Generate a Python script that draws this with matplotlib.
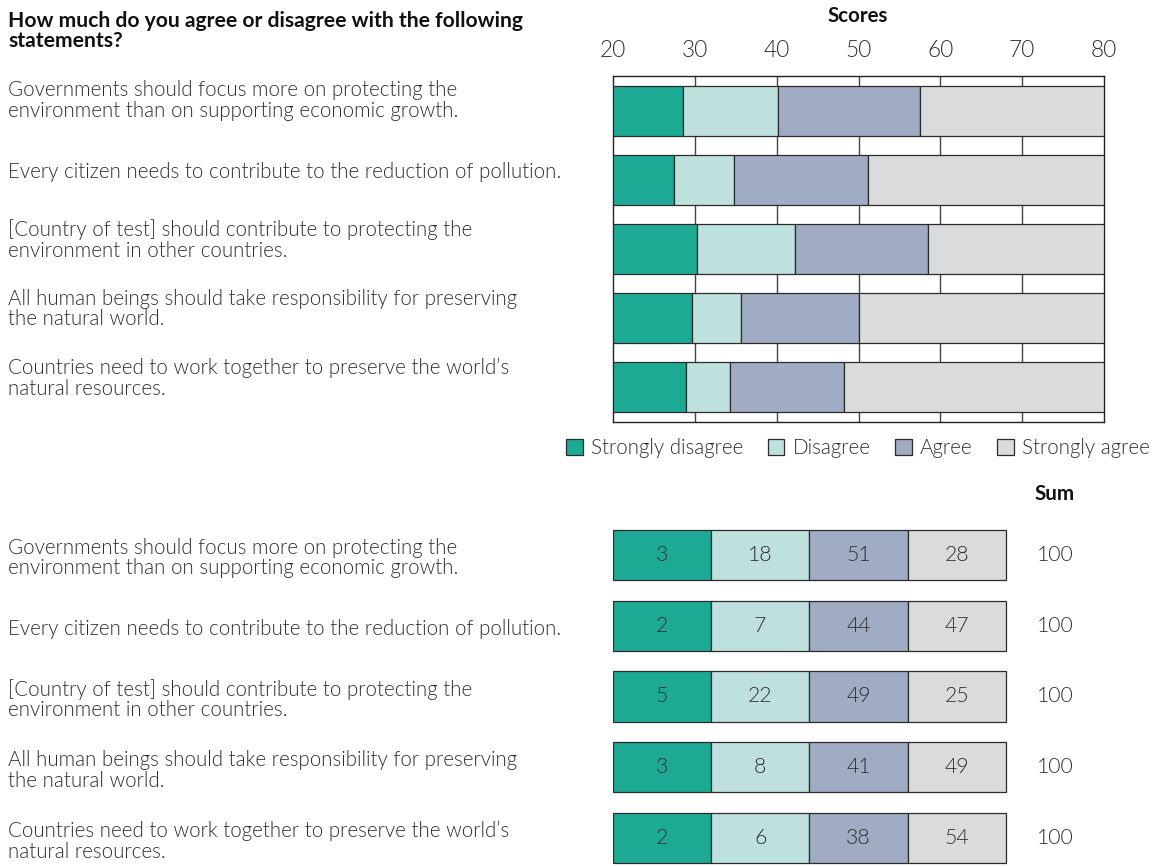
import matplotlib
matplotlib.use("Agg")
import matplotlib.pyplot as plt
from matplotlib.patches import Patch
import numpy as np

plt.rcParams['font.family'] = ['Lato', 'DejaVu Sans']

title = "How much do you agree or disagree with the following\nstatements?"
statements = [
    "Governments should focus more on protecting the\nenvironment than on supporting economic growth.",
    "Every citizen needs to contribute to the reduction of pollution.",
    "[Country of test] should contribute to protecting the\nenvironment in other countries.",
    "All human beings should take responsibility for preserving\nthe natural world.",
    "Countries need to work together to preserve the world\u2019s\nnatural resources.",
]
categories = ["Strongly disagree", "Disagree", "Agree", "Strongly agree"]

# Top chart: score thresholds (cumulative boundaries on the score scale)
score_start = [20, 20, 20, 20, 20]
score_sd_end = [28.6, 27.5, 30.3, 29.7, 28.9]
score_d_end = [40.2, 34.8, 42.3, 35.7, 34.3]
score_a_end = [57.5, 51.1, 58.5, 50.1, 48.2]
score_sa_end = [80, 80, 80, 80, 80]
score_ticks = [20, 30, 40, 50, 60, 70, 80]

# Bottom table: percentages
pct_strongly_disagree = [3, 2, 5, 3, 2]
pct_disagree = [18, 7, 22, 8, 6]
pct_agree = [51, 44, 49, 41, 38]
pct_strongly_agree = [28, 47, 25, 49, 54]
pct_sum = [100, 100, 100, 100, 100]

colors = ["#1daa94", "#bfe1de", "#9facc3", "#dadbdd"]
edge = "#2b2b2b"
txt = "#2e2e2e"
FS = 14.8
WT = 300
LS = 1.05

W, H = 1157, 866
fig = plt.figure(figsize=(W / 100, H / 100), dpi=100)

def fx(px):
    return px / W

def fy(py):
    return 1 - py / H

# ---------- top chart ----------
L, R = 613, 1104
T, B = 76, 422
ax = fig.add_axes([fx(L), fy(B), fx(R - L), (B - T) / H])
n = len(statements)
y = np.arange(n)
bounds = [score_start, score_sd_end, score_d_end, score_a_end, score_sa_end]
for k in range(4):
    lefts = np.array(bounds[k])
    widths = np.array(bounds[k + 1]) - lefts
    ax.barh(y, widths, left=lefts, height=0.72, color=colors[k],
            edgecolor=edge, linewidth=0.9, zorder=3)
ax.set_xlim(20, 80)
ax.set_ylim(n - 0.5, -0.5)
ax.set_yticks([])
ax.set_xticks(score_ticks)
ax.xaxis.tick_top()
ax.tick_params(axis='x', length=0, pad=11, labelsize=FS + 1.5, labelcolor=txt)
for t in ax.get_xticklabels():
    t.set_fontweight(WT)
for xv in score_ticks[1:-1]:
    ax.axvline(xv, color="#444444", linewidth=1.0, zorder=1)
for s in ax.spines.values():
    s.set_color("#222222")
    s.set_linewidth(1.0)
fig.text(fx(858), fy(16), "Scores", ha='center', va='center',
         fontsize=FS, fontweight='bold', color='#111111')

handles = [Patch(facecolor=c, edgecolor=edge, linewidth=0.9) for c in colors]
fig.legend(handles, categories, loc='center', bbox_to_anchor=(fx(858), fy(448)),
           ncol=4, frameon=False, handlelength=0.8, handleheight=0.8,
           handletextpad=0.4, columnspacing=1.2,
           prop={'size': FS, 'weight': WT}, labelcolor=txt)

# ---------- left text ----------
fig.text(fx(8), fy(31), title, ha='left', va='center', fontsize=FS + 0.4,
         fontweight='bold', color='#111111', linespacing=LS)
top_rows_px = [100.5, 172, 240, 309, 378.5]
for s, py in zip(statements, top_rows_px):
    fig.text(fx(8), fy(py), s, ha='left', va='center', fontsize=FS,
             fontweight=WT, color=txt, linespacing=LS)

# ---------- bottom table ----------
row0, pitch = 555, 70.75
top_px, bot_px = 484, 866
ax2 = fig.add_axes([fx(L), 0, fx(R - L), (bot_px - top_px) / H])
ax2.set_xlim(0, 5)
ax2.set_ylim((bot_px - row0) / pitch, -(row0 - top_px) / pitch)
ax2.axis('off')
table = [pct_strongly_disagree, pct_disagree, pct_agree, pct_strongly_agree]
for k in range(4):
    ax2.barh(y, 1, left=k, height=0.707, color=colors[k], edgecolor=edge,
             linewidth=0.9)
    for i in range(n):
        ax2.text(k + 0.5, i, str(table[k][i]), ha='center', va='center',
                 fontsize=FS + 0.5, fontweight=WT, color=txt)
for i in range(n):
    ax2.text(4.5, i, str(pct_sum[i]), ha='center', va='center', fontsize=FS + 0.5,
             fontweight=WT, color=txt)
ax2.text(4.5, -(row0 - 494) / pitch, "Sum", ha='center', va='center',
         fontsize=FS, fontweight='bold', color='#111111')

for s, i in zip(statements, range(n)):
    py = row0 + pitch * i + 3
    fig.text(fx(8), fy(py), s, ha='left', va='center', fontsize=FS,
             fontweight=WT, color=txt, linespacing=LS)

fig.savefig("out.png", dpi=100)
